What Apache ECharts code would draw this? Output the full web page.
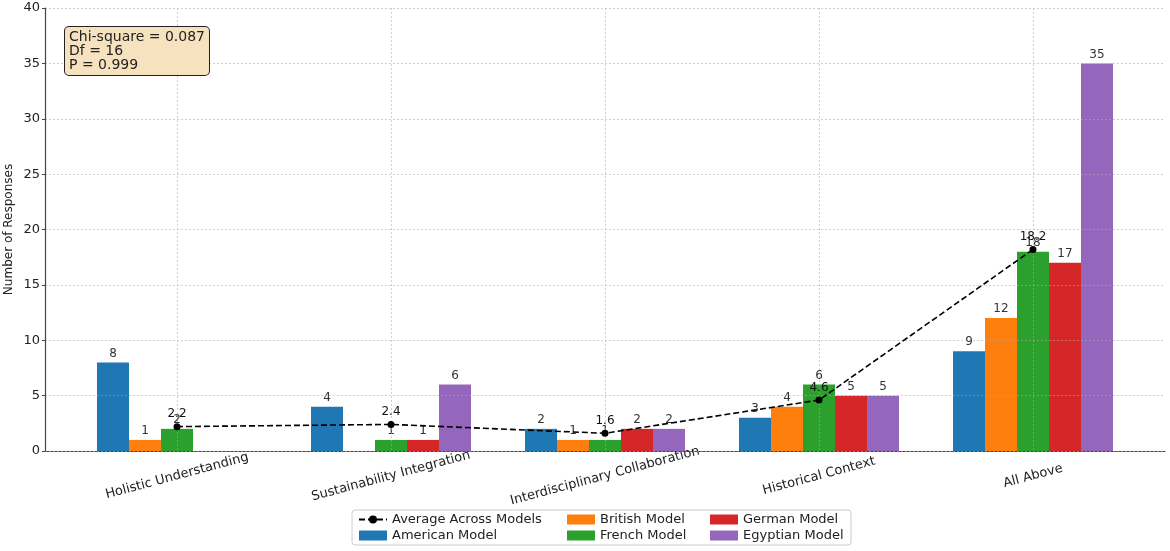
<!DOCTYPE html>
<html lang="en">
<head>
  <meta charset="UTF-8">
  <title>Responses by model</title>
  <script src="https://cdn.jsdelivr.net/npm/echarts@6/dist/echarts.min.js"></script>
</head>
<body style="margin:0;background:#fff">
<div id="main" style="width:1170px;height:551px;"></div>
<script type="text/javascript">

var categories = ['Holistic Understanding', 'Sustainability Integration', 'Interdisciplinary Collaboration', 'Historical Context', 'All Above'];
var american = [8, 4, 2, 3, 9];
var british = [1, 0, 1, 4, 12];
var french = [2, 1, 1, 6, 18];
var german = [0, 1, 2, 5, 17];
var egyptian = [0, 6, 2, 5, 35];
var average = [2.2, 2.4, 1.6, 4.6, 18.2];

var modelNames = ['American Model', 'British Model', 'French Model', 'German Model', 'Egyptian Model'];
var modelColors = ['#1f77b4', '#ff7f0e', '#2ca02c', '#d62728', '#9467bd'];
var modelData = [american, british, french, german, egyptian];

var font = 'DejaVu Sans';
var gridColor = 'rgba(170,170,170,0.55)';
var myChart = echarts.init(document.getElementById('main'));

// bars, one series per model
var series = modelData.map(function (d, i) {
  return {
    name: modelNames[i],
    type: 'bar',
    xAxisIndex: 1,
    yAxisIndex: 1,
    data: d,
    barWidth: 32,
    barGap: '0%',
    itemStyle: { color: modelColors[i] },
    label: {
      show: true,
      position: 'top',
      distance: 3,
      color: '#333',
      fontSize: 12,
      fontFamily: font,
      formatter: function (p) { return p.value === 0 ? '' : p.value; }
    },
    z: 3
  };
});

series.push({
  name: 'Average Across Models',
  type: 'line',
  xAxisIndex: 1,
  yAxisIndex: 1,
  data: average,
  symbol: 'circle',
  symbolSize: 7,
  itemStyle: { color: '#000' },
  lineStyle: { color: '#000', width: 1.6, type: [6, 3] },
  label: {
    show: true,
    position: 'top',
    distance: 3,
    color: '#111',
    fontSize: 12,
    fontFamily: font
  },
  z: 20
});

var legendText = { fontSize: 13, fontFamily: font, color: '#222' };

var option = {
  backgroundColor: '#fff',
  animation: false,
  grid: [
    // frame, y axis and horizontal grid
    { left: 45, top: 8, width: 1120, bottom: 100, outerBoundsMode: 'none', containLabel: false },
    // bars
    { left: 70, top: 8, width: 1070, bottom: 100, outerBoundsMode: 'none', containLabel: false },
    // vertical grid lines at category centres
    { left: -37, top: 8, width: 1284, bottom: 100, outerBoundsMode: 'none', containLabel: false }
  ],
  xAxis: [
    {
      type: 'value',
      gridIndex: 0,
      min: 0,
      max: 1,
      axisLine: { show: true, onZero: false, lineStyle: { color: '#444', width: 1.2 } },
      axisTick: { show: false },
      axisLabel: { show: false },
      splitLine: { show: false }
    },
    {
      type: 'category',
      gridIndex: 1,
      data: categories,
      axisLine: { show: false },
      axisTick: { show: true, alignWithLabel: true, inside: true, length: 3, lineStyle: { color: '#444' } },
      axisLabel: {
        rotate: 15,
        align: 'center',
        verticalAlign: 'middle',
        margin: 25,
        interval: 0,
        fontSize: 13,
        fontFamily: font,
        color: '#222'
      },
      splitLine: { show: false }
    },
    {
      type: 'value',
      gridIndex: 2,
      min: -1,
      max: 5,
      interval: 1,
      z: 10,
      axisLine: { show: false },
      axisTick: { show: false },
      axisLabel: { show: false },
      splitLine: { show: true, lineStyle: { color: gridColor, type: [2, 2] } }
    }
  ],
  yAxis: [
    {
      type: 'value',
      gridIndex: 0,
      min: 0,
      max: 40,
      interval: 5,
      z: 10,
      name: 'Number of Responses',
      nameLocation: 'middle',
      nameRotate: 90,
      nameGap: 30,
      nameMoveOverlap: false,
      nameTextStyle: { fontSize: 12, fontFamily: font, color: '#222' },
      axisLine: { show: true, onZero: false, lineStyle: { color: '#444', width: 1.2 } },
      axisTick: { show: true, length: 3, lineStyle: { color: '#444' } },
      axisLabel: { fontSize: 13, fontFamily: font, color: '#222', margin: 5 },
      splitLine: { show: true, lineStyle: { color: gridColor, type: [2, 2] } }
    },
    {
      type: 'value',
      gridIndex: 1,
      min: 0,
      max: 40,
      show: false,
      splitLine: { show: false }
    },
    {
      type: 'value',
      gridIndex: 2,
      min: 0,
      max: 40,
      show: false,
      splitLine: { show: false }
    }
  ],
  legend: [
    {
      orient: 'vertical', left: 358, top: 513, padding: 0, itemGap: 3,
      itemWidth: 28, itemHeight: 10, textStyle: legendText,
      data: [{ name: 'Average Across Models' }, { name: 'American Model', icon: 'rect' }]
    },
    {
      orient: 'vertical', left: 567, top: 513, padding: 0, itemGap: 3,
      itemWidth: 28, itemHeight: 10, textStyle: legendText,
      data: [{ name: 'British Model', icon: 'rect' }, { name: 'French Model', icon: 'rect' }]
    },
    {
      orient: 'vertical', left: 710, top: 513, padding: 0, itemGap: 3,
      itemWidth: 28, itemHeight: 10, textStyle: legendText,
      data: [{ name: 'German Model', icon: 'rect' }, { name: 'Egyptian Model', icon: 'rect' }]
    }
  ],
  graphic: [
    {
      type: 'text',
      left: 64,
      top: 26,
      z: 30,
      style: {
        text: 'Chi-square = 0.087\nDf = 16\nP = 0.999',
        font: '14px "DejaVu Sans"',
        fill: '#222',
        lineHeight: 14,
        backgroundColor: '#f7e2bf',
        borderColor: '#222',
        borderWidth: 1,
        borderRadius: 4,
        padding: [3, 4, 3, 4]
      }
    },
    {
      type: 'rect',
      shape: { x: 352, y: 510, width: 499, height: 35, r: 3 },
      style: { fill: 'none', stroke: '#ccc', lineWidth: 1 }
    }
  ],
  series: series
};

myChart.setOption(option);

</script>
</body>
</html>
